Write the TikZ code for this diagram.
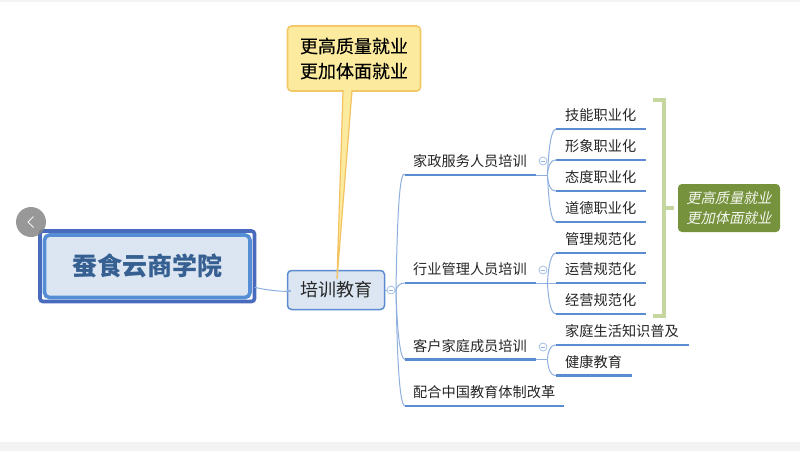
\documentclass[tikz,border=0pt]{standalone}
\usepackage{fontspec}
\setmainfont{Noto Sans CJK SC}
\newfontfamily\cjkslant[FakeSlant=0.22]{Noto Sans CJK SC}
\newfontfamily\cjkheavy[FakeBold=0.25]{Noto Sans CJK SC}
\usetikzlibrary{calc}
\definecolor{linkblue}{HTML}{5B8BD0}
\definecolor{thinblue}{HTML}{8FB0DE}
\definecolor{palefill}{HTML}{DCE6F2}
\definecolor{bracketgreen}{HTML}{C6D69F}
\definecolor{olive}{HTML}{76923C}
\definecolor{calloutfill}{HTML}{FCEB9E}
\definecolor{calloutedge}{HTML}{F2C766}
\definecolor{inktext}{HTML}{262626}
\definecolor{bandgrey}{HTML}{F3F3F3}
\tikzset{
  x=1pt,y=-1pt,
  topic/.style={anchor=south west,inner xsep=8pt,inner ysep=0pt,minimum height=27pt,align=left,
    text=inktext,font=\fontsize{14.2}{17}\selectfont},
  under/.style={draw=linkblue,line width=2.4pt},
  thin link/.style={draw=thinblue,line width=1pt},
  collapser/.style={circle,draw=thinblue!80,line width=.8pt,fill=white,inner sep=0pt,minimum size=8pt,
    path picture={\draw[thinblue,line width=.7pt] ($(path picture bounding box.center)+(-2,0)$) -- ($(path picture bounding box.center)+(2,0)$);}},
}
\begin{document}
\begin{tikzpicture}
\useasboundingbox (0,0) rectangle (800,451);
\fill[white] (0,0) rectangle (800,451);
\fill[bandgrey] (0,0) rectangle (800,2);
\fill[bandgrey] (0,442) rectangle (800,451);

% central topic
\draw[rounded corners=3pt,draw={rgb,255:red,72;green,107;blue,190},line width=3.6pt,fill=white] (40,231) rectangle (254.5,301.5);
\node[draw={rgb,255:red,85;green,142;blue,213},line width=3.6pt,fill=palefill,rounded corners=5pt,
  minimum width=205.5pt,minimum height=62.5pt,inner sep=0pt,
  text={rgb,255:red,54;green,96;blue,146},font=\fontsize{25}{30}\selectfont\bfseries] (central) at (147.25,266.25) {蚕食云商学院};

% second-level topic
\node[draw=linkblue,line width=1.5pt,fill=palefill,rounded corners=4pt,minimum width=97pt,minimum height=39pt,
  inner sep=0pt,text=inktext,font=\fontsize{18}{22}\selectfont] (train) at (336,290) {\raisebox{-1.5pt}{培训教育}};
\draw[thin link] (central.east) ++(3,21) .. controls +(14,4) and +(16,3) .. (train.west);

% callout
\node[draw=calloutedge,line width=1.6pt,fill=calloutfill,rounded corners=4pt,minimum width=133pt,minimum height=65pt,
  inner sep=0pt,align=center,text=black,font=\cjkheavy\fontsize{18}{25}\selectfont] (callout) at (354,58.5) {更高质量就业\\更加体面就业};
\coordinate (tip) at (337,279);
\fill[calloutfill,draw=calloutedge!95!orange,line width=1.2pt] ($(callout.south)+(-11,-1)$) -- (tip) -- ($(callout.south)+(-2,-1)$);
\fill[calloutfill] ($(callout.south)+(-10,-1.5)$) rectangle ($(callout.south)+(-3,1)$);

% branches
\node[collapser] (rootc) at (391,290) {};
\draw[thin link] (train.east) -- (rootc.west);
\coordinate (rootj) at (396,290);
\draw[thin link] (rootc.east) -- (rootj);

\node[topic,text width=115pt] (b1) at (405,175) {家政服务人员培训};
\node[topic,text width=115pt] (b2) at (405,283) {行业管理人员培训};
\node[topic,text width=115pt] (b3) at (405,359.5) {客户家庭成员培训};
\node[topic,text width=143pt] (b4) at (405,406) {配合中国教育体制改革};

\draw[thin link] (rootj) .. controls ($(rootj)+(1,-60)$) and ($(b1.south west)+(-6,-8)$) .. (b1.south west);
\draw[thin link] (rootj) .. controls ($(rootj)+(1,-4)$) and ($(b2.south west)+(-5,0)$) .. (b2.south west);
\draw[thin link] (rootj) .. controls ($(rootj)+(1,40)$) and ($(b3.south west)+(-5,0)$) .. (b3.south west);
\draw[thin link] (rootj) .. controls ($(rootj)+(1,60)$) and ($(b4.south west)+(-6,0)$) .. (b4.south west);
\foreach \n in {b1,b2,b3,b4}
  \draw[under] (\n.south west) -- (\n.south east);

\node[collapser] (c1) at (543,161) {};
\node[collapser] (c2) at (543,270) {};
\node[collapser] (c3) at (543,347) {};

% leaves
\node[topic,inner xsep=9pt,text width=72pt] (l1) at (556,129) {技能职业化};
\node[topic,inner xsep=9pt,text width=72pt] (l2) at (556,160) {形象职业化};
\node[topic,inner xsep=9pt,text width=72pt] (l3) at (556,191) {态度职业化};
\node[topic,inner xsep=9pt,text width=72pt] (l4) at (556,222) {道德职业化};
\node[topic,inner xsep=9pt,text width=72pt] (l5) at (556,253) {管理规范化};
\node[topic,inner xsep=9pt,text width=72pt] (l6) at (556,283) {运营规范化};
\node[topic,inner xsep=9pt,text width=72pt] (l7) at (556,314) {经营规范化};
\node[topic,inner xsep=9pt,text width=115pt] (l8) at (556,345) {家庭生活知识普及};
\node[topic,inner xsep=9pt,text width=58pt] (l9) at (556,375.5) {健康教育};

\draw[thin link] (b1.south east) -- ++(11,0) coordinate (j1);
\draw[thin link] (b2.south east) -- ++(11,0) coordinate (j2);
\draw[thin link] (b3.south east) -- ++(11,0) coordinate (j3);
\foreach \j/\n/\s in {j1/l1/-1,j1/l2/-1,j1/l3/1,j1/l4/1,j2/l5/-1,j2/l7/1,j3/l8/-1,j3/l9/1}
  \draw[thin link] (\j) .. controls ($(\j)+(0.5,\s*6)$) and ($(\n.south west)+(-7,0)$) .. (\n.south west);
\draw[thin link] (j2) -- (l6.south west);
\foreach \n in {l1,l2,l3,l4,l5,l6,l7,l8,l9}
  \draw[under] (\n.south west) -- (\n.south east);

% summary bracket
\node[fill=olive,rounded corners=4pt,minimum width=102pt,minimum height=48pt,inner sep=0pt,align=center,
  text=white!92!olive,font=\cjkslant\fontsize{14.2}{20}\selectfont] (summary) at (729,208) {更高质量就业\\更加体面就业};
\coordinate (br) at (664,208);
\draw[bracketgreen,line width=3.6pt] (653,100) -- (664,100) -- (br) -- (664,316) -- (653,316);
\draw[bracketgreen,line width=3.6pt] (br) -- (674,208);

% back button
\node[circle,fill=black!47,opacity=.85,minimum size=30pt,inner sep=0pt] (back) at (31,222) {};
\draw[white,line width=.9pt,opacity=.9] ($(back)+(2.5,-5.5)$) -- ($(back)+(-3,0)$) -- ($(back)+(2.5,5.5)$);
\end{tikzpicture}
\end{document}
